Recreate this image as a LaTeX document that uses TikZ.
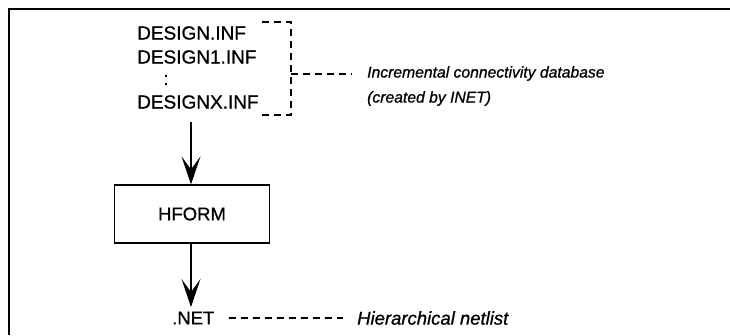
\documentclass[tikz,border=0pt]{standalone}
\usepackage{fontspec}
\setmainfont{Liberation Sans}
\newfontfamily\heavy{Liberation Sans}[FakeBold=0.8]
\usetikzlibrary{arrows.meta}
\begin{document}
\begin{tikzpicture}[x=1pt,y=-1pt,
  fname/.style={anchor=west,inner sep=0pt,font=\heavy\fontsize{19}{22}\selectfont},
  lbl/.style={anchor=west,inner sep=0pt,align=left,font=\heavy\fontsize{15.7}{25}\selectfont\itshape},
  dsh/.style={line width=1.6pt,dash pattern=on 7pt off 5pt},
  arr/.style={line width=1.1pt,-{Stealth[length=28pt,width=19pt,inset=13pt]}},
  procbox/.style={draw,line width=1.2pt,minimum width=155pt,minimum height=58pt,inner sep=0pt,font=\heavy\fontsize{18.5}{22}\selectfont}]
\useasboundingbox (0,0) rectangle (730,335);
% frame
\draw[line width=2pt] (8,9) -- (730,9);
\draw[line width=2pt] (9,9) -- (9,335);
% file list
\node[fname] (f1) at (137,33) {DESIGN.INF};
\node[fname] (f2) at (137,57) {DESIGN1.INF};
\node[inner sep=0pt,font=\heavy\fontsize{19}{22}\selectfont] (fd) at (166,80) {:};
\node[fname] (f4) at (137,102) {DESIGNX.INF};
% bracket
\coordinate (bt) at (262,22);
\coordinate (bb) at (262,115);
\coordinate (bm) at (291,74);
\coordinate (dm) at (352,74);
\draw[dsh] (bt) -- (291,22) -- (291,115) -- (bb);
\node[lbl] (l1) at (367,86) {Incremental connectivity database\\(created by INET)};
\draw[dsh] (bm) -- (dm);
% HFORM
\node[procbox] (hf) at (192,214) {HFORM};
\coordinate (a1) at (191,122);
\draw[arr] (a1) -- (a1 |- hf.north);
\coordinate (t2) at (191,307);
\draw[arr] (t2 |- hf.south) -- (t2);
% NET
\node[inner sep=0pt,anchor=west,font=\heavy\fontsize{18.5}{22}\selectfont] (net) at (172,318) {.NET};
\node[lbl,font=\heavy\fontsize{18.5}{22}\selectfont\itshape] (l2) at (357,318) {Hierarchical netlist};
\draw[dsh] ([xshift=14pt]net.east) -- ([xshift=-14pt]l2.west);
\end{tikzpicture}
\end{document}
